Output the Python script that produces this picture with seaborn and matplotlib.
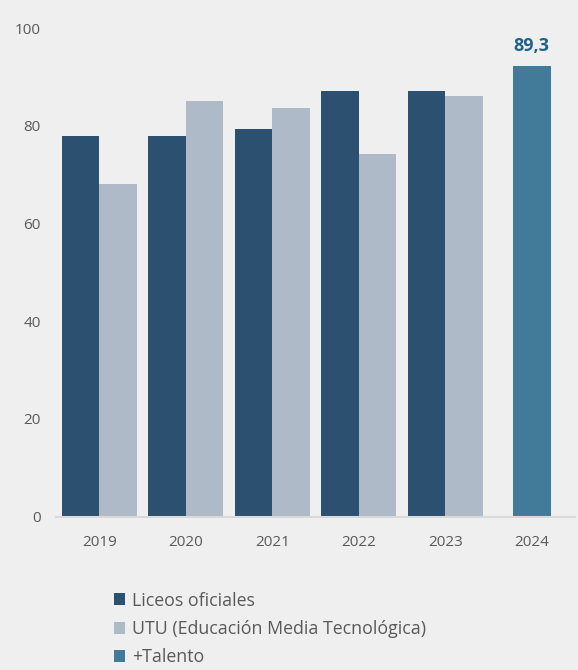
import pandas as pd
import matplotlib.pyplot as plt
import seaborn as sns
from matplotlib.patches import Patch

# Values
years = ['2019', '2020', '2021', '2022', '2023', '2024']
liceos = [78.0, 78.0, 79.3, 87.1, 87.1]
utu = [68.1, 85.1, 83.6, 74.3, 86.1]
talento = [92.2]
talento_label = '89,3'

series_names = ['Liceos oficiales', 'UTU (Educación Media Tecnológica)', '+Talento']
colors = ['#2c5070', '#aebac7', '#427b99']

# Long-form table for the two series with data 2019-2023
df = pd.DataFrame({
    'Year': years[:5] * 2,
    'Serie': [series_names[0]] * 5 + [series_names[1]] * 5,
    'Value': liceos + utu,
})
df_tal = pd.DataFrame({'Year': years[5:], 'Value': talento})

sns.set_style('white')
plt.rcParams['font.family'] = ['Open Sans', 'DejaVu Sans']

fig = plt.figure(figsize=(5.78, 6.70), dpi=100, facecolor='#efefef')
ax = fig.add_axes([0.097, 0.229, 0.898, 0.729])
ax.set_facecolor('#efefef')

sns.barplot(data=df, x='Year', y='Value', hue='Serie', order=years,
            hue_order=series_names[:2], palette=colors[:2], width=0.864,
            saturation=1, legend=False, linewidth=0, ax=ax)
sns.barplot(data=df_tal, x='Year', y='Value', order=years, color=colors[2],
            width=0.432, saturation=1, linewidth=0, ax=ax)

ax.text(5, talento[0] + 2.4, talento_label, ha='center', va='bottom',
        fontsize=13, fontweight='bold', color='#1e6287', clip_on=False)

ax.set_xlim(-0.5, 5.5)
ax.set_ylim(0, 100)
ax.set_yticks([0, 20, 40, 60, 80, 100])
ax.set_xlabel('')
ax.set_ylabel('')
ax.tick_params(axis='both', length=0, labelsize=11, labelcolor='#595959')
ax.tick_params(axis='y', pad=11)
ax.tick_params(axis='x', pad=13)
for s in ['top', 'right', 'left']:
    ax.spines[s].set_visible(False)
ax.spines['bottom'].set_color('#d9d9d9')
ax.spines['bottom'].set_linewidth(1.5)

handles = [Patch(facecolor=c, edgecolor='none') for c in colors]
fig.legend(handles, series_names, loc='upper left', bbox_to_anchor=(0.197, 0.117),
           frameon=False, fontsize=12.8, labelcolor='#595959',
           handlelength=0.65, handleheight=0.65, handletextpad=0.35,
           labelspacing=0.58, borderpad=0, borderaxespad=0)

fig.savefig('out.png', dpi=100, facecolor=fig.get_facecolor())
